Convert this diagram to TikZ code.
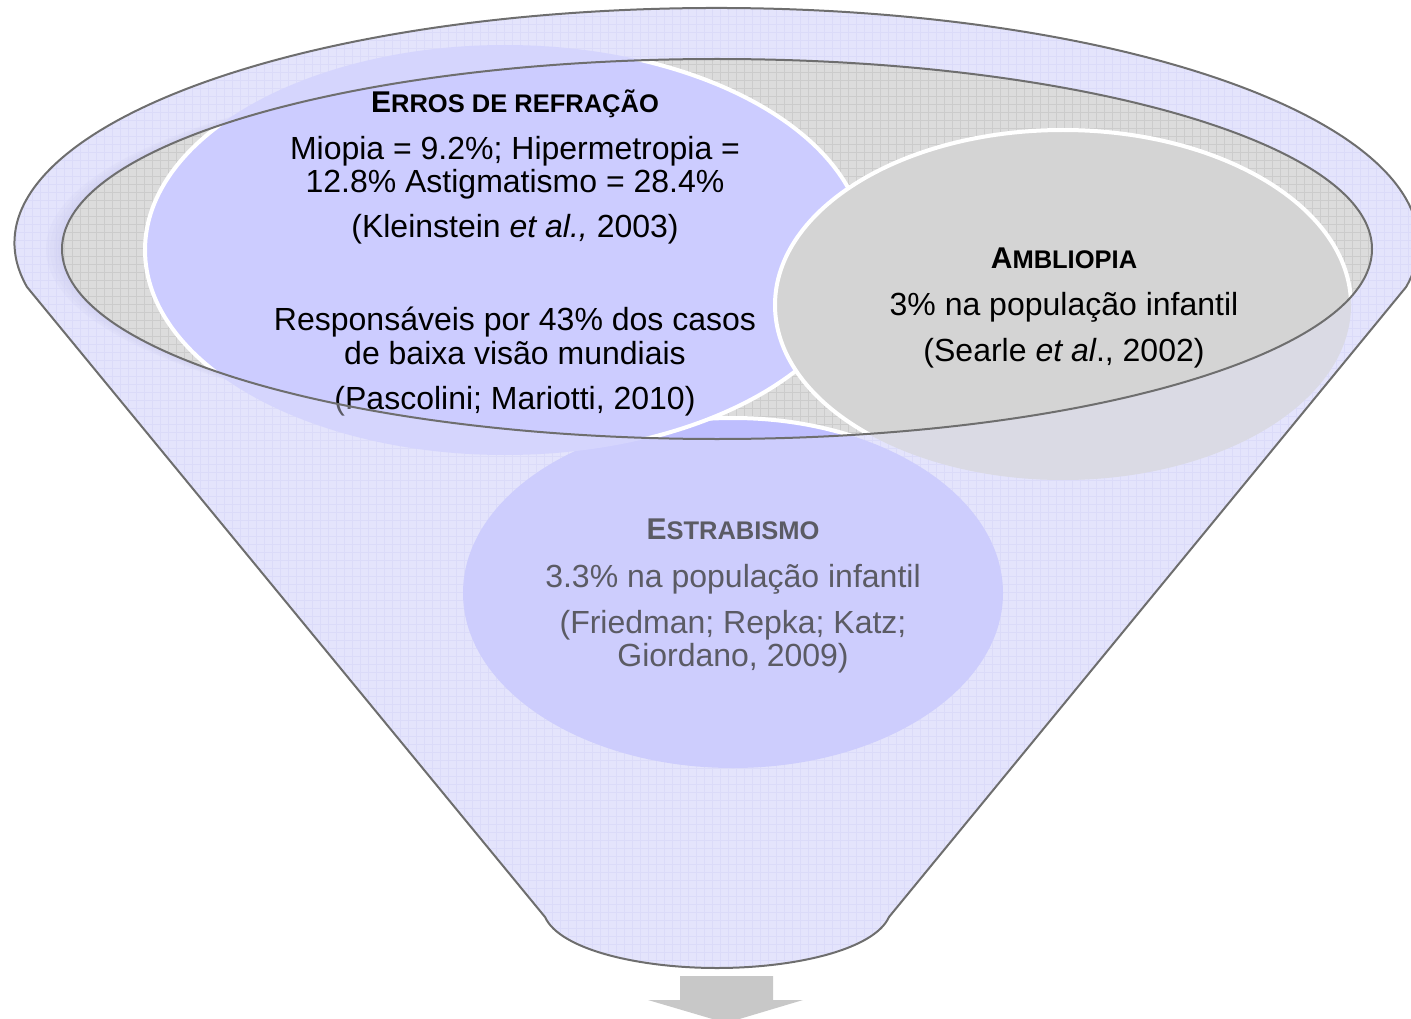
\documentclass[tikz,border=0pt]{standalone}
\usepackage{fontspec}
\setmainfont{Liberation Sans}
\definecolor{bodyc}{RGB}{228,228,252}
\definecolor{bodygrid}{RGB}{214,214,248}
\definecolor{rimc}{RGB}{220,220,220}
\definecolor{rimgrid}{RGB}{204,204,204}
\definecolor{shadowc}{RGB}{190,190,230}
\definecolor{lavc}{RGB}{204,204,255}
\definecolor{estc}{RGB}{190,190,254}
\definecolor{amblc}{RGB}{212,212,212}
\definecolor{outlc}{RGB}{110,110,110}
\definecolor{arrowc}{RGB}{200,200,200}
\newcommand{\hdr}[2]{{\bfseries\fontsize{30}{34}\selectfont #1\fontsize{25.5}{30}\selectfont #2}}
\tikzset{
  funnelp/.style={insert path={(27,287) arc[start angle=169.2, end angle=370.8, x radius=702, y radius=235] -- (889,917) .. controls (874,950) and (794,968) .. (717,968) .. controls (640,968) and (560,950) .. (545,917) -- cycle}},
  rimp/.style={insert path={(717,249) ellipse [x radius=655, y radius=190]}},
  txt/.style={anchor=base, inner sep=0pt, font={\fontsize{32}{36}\selectfont}},
  circedge/.style={draw=white, line width=4pt}
}
\begin{document}
\begin{tikzpicture}[x=1pt,y=-1pt]
\useasboundingbox (0,0) rectangle (1411,1019);
% funnel body
\fill[bodyc, funnelp];
\begin{scope}
  \clip[funnelp];
  \draw[bodygrid, line width=0.7pt] \foreach \i in {0,8,...,1416} {(\i,0) -- (\i,1019)};
  \draw[bodygrid, line width=0.7pt] \foreach \j in {0,8,...,1024} {(0,\j) -- (1411,\j)};
  % soft shadow of rim on the left
  \foreach \d in {4,8,12,16} {
    \fill[shadowc, fill opacity=0.18] (717-\d,249) ellipse [x radius=655, y radius=190];
  }
\end{scope}
% rim opening
\fill[rimc, rimp];
\begin{scope}
  \clip[rimp];
  \draw[rimgrid, line width=0.7pt] \foreach \i in {0,8,...,1416} {(\i,0) -- (\i,1019)};
  \draw[rimgrid, line width=0.7pt] \foreach \j in {0,8,...,1024} {(0,\j) -- (1411,\j)};
\end{scope}
% circles (white edges only show inside the rim opening)
\fill[estc] (733,593) ellipse [x radius=270, y radius=175];
\begin{scope}
  \clip[rimp];
  \draw[circedge] (733,593) ellipse [x radius=270, y radius=175];
\end{scope}
\fill[lavc] (505,250) ellipse [x radius=360, y radius=205];
\begin{scope}
  \clip[rimp];
  \draw[circedge] (505,250) ellipse [x radius=360, y radius=205];
\end{scope}
\fill[amblc] (1063,305) ellipse [x radius=288, y radius=175];
\begin{scope}
  \clip[rimp];
  \draw[circedge] (1063,305) ellipse [x radius=288, y radius=175];
\end{scope}
% texts
\node[txt] (er0) at (515,113) {\hdr{E}{RROS DE REFRAÇÃO}};
\node[txt] (er1) at (515,160) {Miopia = 9.2\%; Hipermetropia =};
\node[txt] (er2) at (515,193) {12.8\% Astigmatismo = 28.4\%};
\node[txt] (er3) at (515,238) {(Kleinstein \textit{et al.,} 2003)};
\node[txt] (er4) at (515,330) {Responsáveis por 43\% dos casos};
\node[txt] (er5) at (515,364) {de baixa visão mundiais};
\node[txt] (er6) at (515,409) {(Pascolini; Mariotti, 2010)};
\node[txt] (am0) at (1064,269) {\hdr{A}{MBLIOPIA}};
\node[txt] (am1) at (1064,315) {3\% na população infantil};
\node[txt] (am2) at (1064,361) {(Searle \textit{et al}., 2002)};
\node[txt] (es0) at (733,539) {\hdr{E}{STRABISMO}};
\node[txt] (es1) at (733,587) {3.3\% na população infantil};
\node[txt] (es2) at (733,633) {(Friedman; Repka; Katz;};
\node[txt] (es3) at (733,666) {Giordano, 2009)};
% translucent front of funnel
\fill[bodyc, fill opacity=0.4, even odd rule, funnelp, rimp];
% outlines
\draw[outlc, line width=2pt, rimp];
\draw[outlc, line width=2pt, line join=round, funnelp];
% arrow
\fill[arrowc] (680,976) -- (773,976) -- (773,1000) -- (803,1000) -- (726,1023) -- (648,1000) -- (680,1000) -- cycle;
\end{tikzpicture}
\end{document}
